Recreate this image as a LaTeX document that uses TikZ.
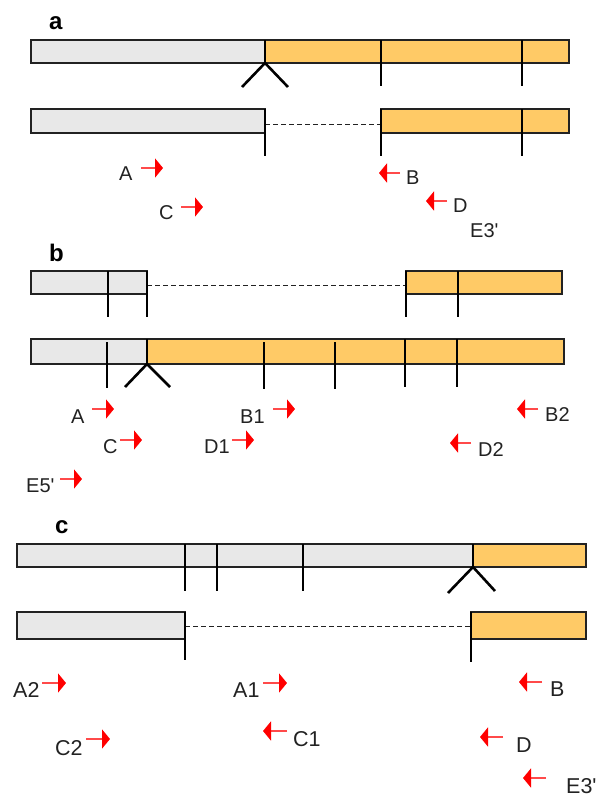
\documentclass[tikz,border=0pt]{standalone}
\usepackage{fontspec}
\setmainfont{Liberation Sans}[Ligatures=TeXOff]
\usetikzlibrary{arrows.meta}
\definecolor{exongray}{HTML}{E8E8E8}
\definecolor{exonorange}{HTML}{FFCA66}
\definecolor{primerred}{HTML}{FF0000}
\definecolor{primerline}{HTML}{FF4A4A}
\definecolor{inkgray}{HTML}{222222}

\begin{document}
\begin{tikzpicture}[x=1pt,y=-1pt,
  graybar/.style={fill=exongray, draw=inkgray, line width=1.5pt},
  orangebar/.style={fill=exonorange, draw=inkgray, line width=1.5pt},
  sitemark/.style={draw=black, line width=2.8pt},
  junction/.style={draw=black, line width=2.6pt, line join=miter},
  gap/.style={draw=inkgray, line width=1pt, dash pattern=on 5pt off 3pt},
  primer/.style={draw=primerline, line width=2.8pt,
    -{Triangle[length=8pt,width=19pt,color=primerred,fill=primerred]}},
  lab/.style={font=\fontsize{20}{24}\selectfont, anchor=base west, inner sep=0pt, text=inkgray},
  labc/.style={lab, font=\fontsize{21.5}{24}\selectfont},
  panel/.style={font=\bfseries\fontsize{24}{28}\selectfont, anchor=base west, inner sep=0pt}
]
\useasboundingbox (0,0) rectangle (597,796);

% ---------------- panel a ----------------
\node[panel] (pa) at (49,29) {a};
% genomic bar with junction
\draw[graybar] (31,40) rectangle (265,63);
\draw[orangebar] (265,40) rectangle (569,63);
\draw[sitemark] (265,40) -- (265,63);
\draw[junction] (242,87) -- (265,63) -- (288,87);
\draw[sitemark] (381,40) -- (381,86);
\draw[sitemark] (522,40) -- (522,86);
% deleted product
\draw[graybar] (31,109) rectangle (265,133);
\draw[gap] (265,124) -- (383,124);
\draw[orangebar] (381,109) rectangle (569,133);
\draw[sitemark] (265,109) -- (265,156);
\draw[sitemark] (381,109) -- (381,156);
\draw[sitemark] (522,109) -- (522,156);
% primers
\node[lab] (aA) at (119,180) {A};
\draw[primer] (141,168) -- (163,168);
\node[lab] (aC) at (159,219) {C};
\draw[primer] (181,207) -- (203,207);
\draw[primer] (400,173) -- (379,173);
\node[lab] (aB) at (406,184) {B};
\draw[primer] (447,201) -- (426,201);
\node[lab] (aD) at (453,212) {D};
\node[lab] (aE) at (470,237) {E3'};

% ---------------- panel b ----------------
\node[panel] (pb) at (49,261) {b};
% deleted product
\draw[graybar] (31,271) rectangle (147,294);
\draw[gap] (147,285) -- (412,285);
\draw[orangebar] (406,271) rectangle (562,294);
\draw[sitemark] (108,271) -- (108,317);
\draw[sitemark] (147,271) -- (147,317);
\draw[sitemark] (406,271) -- (406,317);
\draw[sitemark] (458,271) -- (458,317);
% genomic bar with junction
\draw[graybar] (31,339) rectangle (147,364);
\draw[orangebar] (147,339) rectangle (564,364);
\draw[sitemark] (147,339) -- (147,364);
\draw[junction] (125,387) -- (147,364) -- (170,387);
\draw[sitemark] (107,342) -- (107,388);
\draw[sitemark] (264,342) -- (264,389);
\draw[sitemark] (335,342) -- (335,389);
\draw[sitemark] (405,339) -- (405,387);
\draw[sitemark] (457,339) -- (457,387);
% primers
\node[lab] (bA) at (71,423) {A};
\draw[primer] (92,409) -- (114,409);
\node[lab] (bC) at (103,453) {C};
\draw[primer] (120,440) -- (142,440);
\node[lab] (bE) at (26,492) {E5'};
\draw[primer] (60,479) -- (82,479);
\node[lab] (bB1) at (240,423) {B1};
\draw[primer] (273,409) -- (295,409);
\node[lab] (bD1) at (204,453) {D1};
\draw[primer] (232,440) -- (254,440);
\draw[primer] (538,409) -- (517,409);
\node[lab] (bB2) at (545,421) {B2};
\draw[primer] (471,443) -- (450,443);
\node[lab] (bD2) at (478,456) {D2};

% ---------------- panel c ----------------
\node[panel] (pc) at (55,533) {c};
% genomic bar with junction
\draw[graybar] (17,544) rectangle (473,567);
\draw[orangebar] (473,544) rectangle (586,567);
\draw[sitemark] (473,544) -- (473,567);
\draw[junction] (448,593) -- (473,567) -- (495,591);
\draw[sitemark] (185,544) -- (185,591);
\draw[sitemark] (217,544) -- (217,591);
\draw[sitemark] (303,544) -- (303,591);
% deleted product
\draw[graybar] (17,612) rectangle (185,639);
\draw[gap] (185,626) -- (477,626);
\draw[orangebar] (471,612) rectangle (586,639);
\draw[sitemark] (185,612) -- (185,660);
\draw[sitemark] (471,612) -- (471,662);
% primers
\node[labc] (cA2) at (13,697) {A2};
\draw[primer] (42,683) -- (66,683);
\node[labc] (cC2) at (55,755) {C2};
\draw[primer] (86,739) -- (110,739);
\node[labc] (cA1) at (233,697) {A1};
\draw[primer] (263,683) -- (287,683);
\draw[primer] (287,731) -- (263,731);
\node[labc] (cC1) at (293,746) {C1};
\draw[primer] (542,682) -- (519,682);
\node[labc] (cB) at (550,696) {B};
\draw[primer] (503,737) -- (480,737);
\node[labc] (cD) at (516,752) {D};
\draw[primer] (546,778) -- (523,778);
\node[labc] (cE) at (566,793) {E3'};
\end{tikzpicture}
\end{document}
